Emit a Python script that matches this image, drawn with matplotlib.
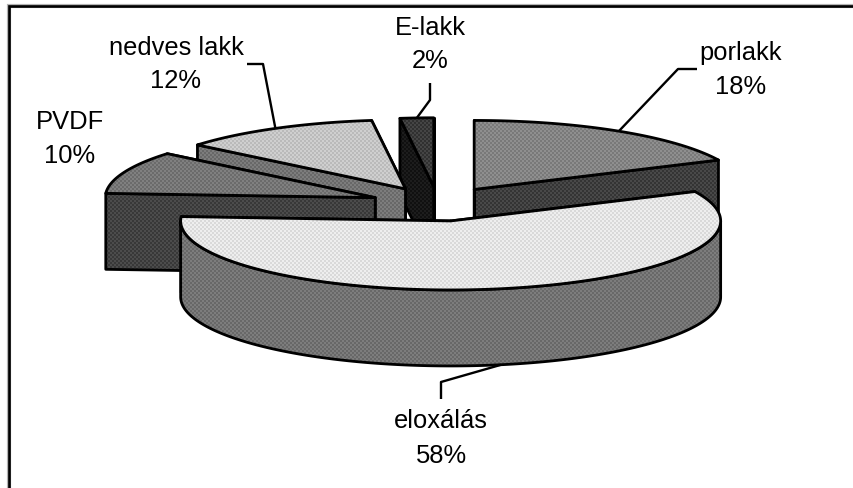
import numpy as np
import matplotlib
matplotlib.use("Agg")
import matplotlib.pyplot as plt
from matplotlib.patches import Polygon

plt.rcParams['font.family'] = ['Liberation Sans', 'DejaVu Sans']

# share of each surface treatment, clockwise from 12 o'clock
names = ["porlakk", "eloxálás", "PVDF", "nedves lakk", "E-lakk"]
shares = [18, 58, 10, 12, 2]

# pie geometry in pixels
W, H = 854, 488
CX, CY = 438, 204
RX, RY = 270, 69
DEPTH = 76
EXPLODE = 0.25

# (top tone, side tone) for every slice, as grey levels 0-1
tones = {
    "porlakk": (0.52, 0.25),
    "eloxálás": (0.89, 0.45),
    "PVDF": (0.46, 0.26),
    "nedves lakk": (0.77, 0.45),
    "E-lakk": (0.23, 0.09),
}
draw_order = ["porlakk", "E-lakk", "nedves lakk", "PVDF", "eloxálás"]

# label text anchors (x centre, baseline of first line, baseline of second)
label_pos = {
    "porlakk": (741, 60, 94),
    "eloxálás": (441, 428, 463),
    "PVDF": (70, 129, 163),
    "nedves lakk": (176, 55, 88),
    "E-lakk": (430, 35, 68),
}
# leader elbows, the first point comes from the slice rim
leaders = {
    "porlakk": [(678, 69), (697, 69)],
    "eloxálás": [(441, 382), (441, 399)],
    "nedves lakk": [(263, 64), (247, 64)],
    "E-lakk": [(430, 100), (430, 83)],
}

fig = plt.figure(figsize=(W / 100, H / 100), dpi=100)
ax = fig.add_axes([0, 0, 1, 1])
ax.set_xlim(0, W)
ax.set_ylim(H, 0)
ax.axis("off")

# only the top and left of the chart frame are in view
ax.plot([W, 9, 9], [6, 6, H], color="#b4b4b4", lw=3.0, solid_joinstyle="miter", zorder=1)
ax.plot([W, 9, 9], [6, 6, H], color="black", lw=1.9, solid_joinstyle="miter", zorder=1)

yy, xx = np.mgrid[0:H, 0:W]
grain = ((xx // 2 + yy // 2) % 2) * 2 - 1


def rim(deg):
    a = np.radians(deg)
    return np.column_stack([RX * np.sin(a), -RY * np.cos(a)])


zo = [2]


def piece(xy, tone):
    # dithered fill clipped to the outline, black edge on top
    z = zo[0]
    zo[0] += 1
    amp = 0.04 if tone > 0.15 else 0.025
    img = ax.imshow(np.clip(tone + amp * grain, 0, 1), cmap="gray", vmin=0, vmax=1,
                    extent=(0, W, H, 0), interpolation="nearest", aspect="auto", zorder=z)
    outline = Polygon(xy, closed=True, fc="none", ec="black", lw=2.0, joinstyle="round", zorder=z)
    ax.add_patch(outline)
    img.set_clip_path(outline)


edges = np.cumsum([0] + shares) * 360 / sum(shares)
apexes = {}
spans = {}
for i, name in enumerate(names):
    a0, a1 = edges[i], edges[i + 1]
    mid = (a0 + a1) / 2
    apexes[name] = np.array([CX, CY]) + EXPLODE * rim(np.array([mid]))[0]
    spans[name] = (a0, a1)

down = np.array([0, DEPTH])
for name in draw_order:
    a0, a1 = spans[name]
    apex = apexes[name]
    top, side = tones[name]
    p0 = apex + rim(np.array([a0]))[0]
    p1 = apex + rim(np.array([a1]))[0]
    # cut faces go under the top, the one at the start edge is the visible one
    piece([apex, p1, p1 + down, apex + down], side)
    piece([apex, p0, p0 + down, apex + down], side)
    # outer wall only where the rim faces the viewer
    f0, f1 = max(a0, 90), min(a1, 270)
    if f0 < f1:
        arc = apex + rim(np.linspace(f0, f1, 200))
        piece(np.vstack([arc, (arc + down)[::-1]]), side)
    arc = apex + rim(np.linspace(a0, a1, 200))
    piece(np.vstack([apex, arc]), top)

zo_text = zo[0] + 1
for name, value in zip(names, shares):
    x, y1, y2 = label_pos[name]
    ax.text(x, y1, name, ha="center", va="baseline", fontsize=18.4, color="black", zorder=zo_text)
    ax.text(x, y2, f"{value}%", ha="center", va="baseline", fontsize=18.4, color="black", zorder=zo_text)
    if name in leaders:
        a0, a1 = spans[name]
        mid = (a0 + a1) / 2
        start = apexes[name] + rim(np.array([mid]))[0]
        if 90 < mid < 270:
            start = start + down
        pts = np.vstack([start, leaders[name]])
        ax.plot(pts[:, 0], pts[:, 1], color="black", lw=1.7, solid_capstyle="butt", zorder=zo_text)

ax.set_xlim(0, W)
ax.set_ylim(H, 0)
fig.savefig("out.png", dpi=100)
